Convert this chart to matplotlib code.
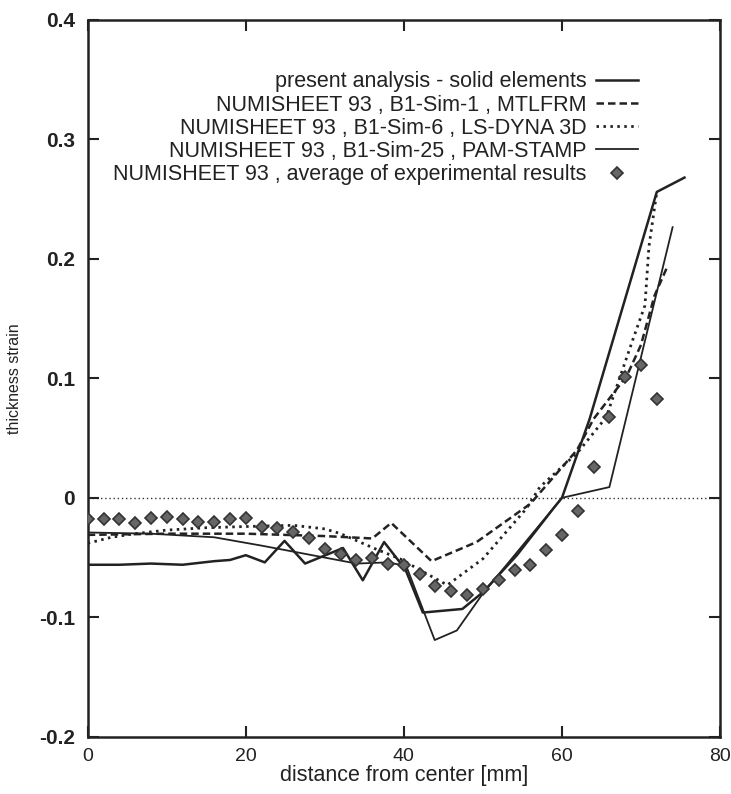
import matplotlib

matplotlib.use("Agg")
import matplotlib.pyplot as plt

# Averaged experimental thickness strain (NUMISHEET 93)
exp_x = [0, 2, 4, 6, 8, 10, 12, 14, 16, 18, 20, 22, 24, 26, 28, 30, 32, 34, 36,
         38, 40, 42, 44, 46, 48, 50, 52, 54, 56, 58, 60, 62, 64, 66, 68, 70, 72]
exp_y = [-0.018, -0.018, -0.018, -0.021, -0.017, -0.016, -0.018, -0.020, -0.020,
         -0.018, -0.017, -0.024, -0.025, -0.029, -0.034, -0.043, -0.047, -0.052,
         -0.050, -0.055, -0.056, -0.064, -0.074, -0.078, -0.081, -0.076, -0.069,
         -0.060, -0.056, -0.044, -0.031, -0.011, 0.026, 0.068, 0.101, 0.111, 0.083]

# present analysis - solid elements
solid_x = [0, 4, 8, 12, 16, 18, 20, 22.4, 24.9, 27.5, 32.3, 34.8, 37.5, 40.2,
           42.4, 47.4, 50, 54.3, 58.9, 60, 63.5, 72, 75.5]
solid_y = [-0.056, -0.056, -0.055, -0.056, -0.053, -0.052, -0.048, -0.054, -0.036,
           -0.055, -0.042, -0.069, -0.037, -0.060, -0.096, -0.093, -0.079, -0.048,
           -0.009, 0.0, 0.066, 0.256, 0.268]

# B1-Sim-1, MTLFRM
mtlfrm_x = [0, 10, 20, 30, 36, 38.4, 43.5, 49.2, 56, 61.9, 64, 68.2, 70, 71.7, 73.3]
mtlfrm_y = [-0.031, -0.030, -0.030, -0.032, -0.034, -0.021, -0.053, -0.037, -0.005,
            0.040, 0.066, 0.102, 0.128, 0.169, 0.193]

# B1-Sim-6, LS-DYNA 3D
lsdyna_x = [0, 3, 6, 10, 15, 20, 26, 30, 32, 36.5, 39.5, 43.3, 45.5, 50, 55.5,
            57.2, 62, 65.6, 69, 70.5, 71, 72]
lsdyna_y = [-0.038, -0.033, -0.030, -0.027, -0.025, -0.024, -0.023, -0.026, -0.030,
            -0.043, -0.051, -0.065, -0.073, -0.051, -0.009, 0.009, 0.038, 0.0675,
            0.133, 0.161, 0.210, 0.256]

# B1-Sim-25, PAM-STAMP
pam_x = [0, 8, 16, 22, 26, 30, 34, 38, 40.3, 43.9, 46.7, 50, 55, 60, 66, 74]
pam_y = [-0.029, -0.030, -0.033, -0.040, -0.045, -0.050, -0.055, -0.054, -0.057,
         -0.119, -0.111, -0.080, -0.040, 0.0, 0.009, 0.2265]

labels = [
    "present analysis - solid elements",
    "NUMISHEET 93 , B1-Sim-1 , MTLFRM",
    "NUMISHEET 93 , B1-Sim-6 , LS-DYNA 3D",
    "NUMISHEET 93 , B1-Sim-25 , PAM-STAMP",
    "NUMISHEET 93 , average of experimental results",
]

x_ticks = [0, 20, 40, 60, 80]
y_ticks = [-0.2, -0.1, 0, 0.1, 0.2, 0.3, 0.4]
y_tick_labels = ["-0.2", "-0.1", "0", "0.1", "0.2", "0.3", "0.4"]

plt.rcParams["font.family"] = ["Liberation Sans", "DejaVu Sans"]
ink = "#222222"

fig = plt.figure(figsize=(7.31, 7.94), dpi=100)
ax = fig.add_axes([0.120, 0.072, 0.865, 0.903])

ax.axhline(0, color="#333333", linestyle=(0, (1, 2)), linewidth=1.0, zorder=1)

ax.plot(solid_x, solid_y, color=ink, linewidth=1.8, label=labels[0], zorder=3)
ax.plot(mtlfrm_x, mtlfrm_y, color=ink, linewidth=1.8, linestyle=(0, (3, 1.6)),
        label=labels[1], zorder=3)
ax.plot(lsdyna_x, lsdyna_y, color=ink, linewidth=2.0, linestyle=(0, (0.9, 1.6)),
        label=labels[2], zorder=3)
ax.plot(pam_x, pam_y, color=ink, linewidth=1.3, label=labels[3], zorder=3)
ax.plot(exp_x, exp_y, linestyle="none", marker="D", markersize=5.8,
        markerfacecolor="#666666", markeredgecolor="#333333", markeredgewidth=1.2,
        label=labels[4], zorder=4)

ax.set_xlim(0, 80)
ax.set_ylim(-0.2, 0.4)
ax.set_xticks(x_ticks)
ax.set_xticklabels([str(t) for t in x_ticks])
ax.set_yticks(y_ticks)
ax.set_yticklabels(y_tick_labels, fontweight="bold")
ax.tick_params(direction="in", length=8, width=1.5, top=True, right=True,
               labelsize=14, colors=ink, pad=8)
ax.tick_params(axis="y", labelsize=15, pad=9)
for spine in ax.spines.values():
    spine.set_linewidth(1.8)
    spine.set_color(ink)

ax.set_xlabel("distance from center [mm]", fontsize=15.5, color=ink, labelpad=0)
ax.set_ylabel("thickness strain", fontsize=11.5, color=ink, labelpad=12)

leg = ax.legend(loc="upper right", bbox_to_anchor=(0.884, 0.94), frameon=False,
                markerfirst=False, fontsize=15.5, handlelength=1.95,
                handletextpad=0.45, labelspacing=0.1, borderaxespad=0)
for text in leg.get_texts():
    text.set_color(ink)

fig.savefig("out.png", dpi=100, facecolor="white")
